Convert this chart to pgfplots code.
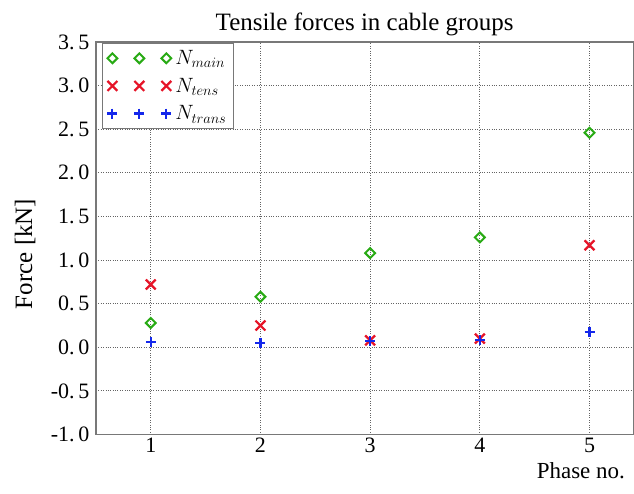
\documentclass[border=0pt]{standalone}
\usepackage{fontspec}
\setmainfont{Liberation Serif}
\usepackage{pgfplots}
\pgfplotsset{compat=1.18}
\definecolor{mgreen}{RGB}{40,170,20}
\definecolor{mred}{RGB}{230,20,40}
\definecolor{mblue}{RGB}{20,40,235}
\definecolor{axgray}{RGB}{120,120,120}
\definecolor{gridgray}{RGB}{100,100,100}
\begin{document}
\begin{tikzpicture}
\begin{axis}[
  name=ax,
  scale only axis,
  width=538pt, height=393pt,
  xmin=0.5, xmax=5.4,
  ymin=-1.0, ymax=3.5,
  xtick={1,2,3,4,5},
  xticklabels={1,2,3,4,5},
  ytick={-1.0,-0.5,0,0.5,1.0,1.5,2.0,2.5,3.0,3.5},
  yticklabels={-1.\,0,-0.\,5,0.\,0,0.\,5,1.\,0,1.\,5,2.\,0,2.\,5,3.\,0,3.\,5},
  ticklabel style={font=\fontsize{22}{26}\selectfont},
  yticklabel style={xshift=-3pt},
  tick style={draw=none},
  axis line style={axgray, line width=1.2pt},
  grid=major,
  major grid style={gridgray, dotted, line width=1pt},
  title={Tensile forces in cable groups},
  title style={font=\fontsize{25}{29}\selectfont, yshift=-3pt},
  ylabel={Force [kN]},
  ylabel style={font=\fontsize{25}{29}\selectfont, at={(rel axis cs:0,0.46)}, anchor=south, yshift=57pt},
  xlabel={Phase no.},
  xlabel style={font=\fontsize{23}{27}\selectfont, at={(rel axis cs:1,0)}, anchor=north east, yshift=-24pt, xshift=-5pt},
  legend style={at={(rel axis cs:0,1)}, anchor=north west, xshift=6pt, yshift=-1pt, draw=axgray, line width=1pt,
    font=\fontsize{22}{26}\selectfont, row sep=8pt, inner sep=5pt},
  legend cell align=left,
  legend image code/.code={\draw[#1, only marks] plot coordinates {(0pt,0pt) (27pt,0pt) (54pt,0pt)};},
]
\addplot[only marks, mark=square, mark options={rotate=45}, mark size=3.5pt, mgreen, line width=2pt]
 coordinates {(1,0.28) (2,0.58) (3,1.08) (4,1.26) (5,2.46)};
\addlegendentry{\hspace{2pt}$N_{main}$\hspace{4pt}}
\addplot[only marks, mark=x, mark size=7pt, mred, line width=2.2pt]
 coordinates {(1,0.72) (2,0.25) (3,0.08) (4,0.10) (5,1.17)};
\addlegendentry{\hspace{2pt}$N_{tens}$}
\addplot[only marks, mark=+, mark size=5pt, mblue, line width=2.2pt]
 coordinates {(1,0.06) (2,0.05) (3,0.07) (4,0.08) (5,0.18)};
\addlegendentry{\hspace{2pt}$N_{trans}$}
\end{axis}
\path (ax.south west) ++(-96pt,-59pt) coordinate (bl);
\path (ax.north east) ++(0pt,42pt) coordinate (tr);
\useasboundingbox (bl) rectangle (tr);
\end{tikzpicture}
\end{document}
